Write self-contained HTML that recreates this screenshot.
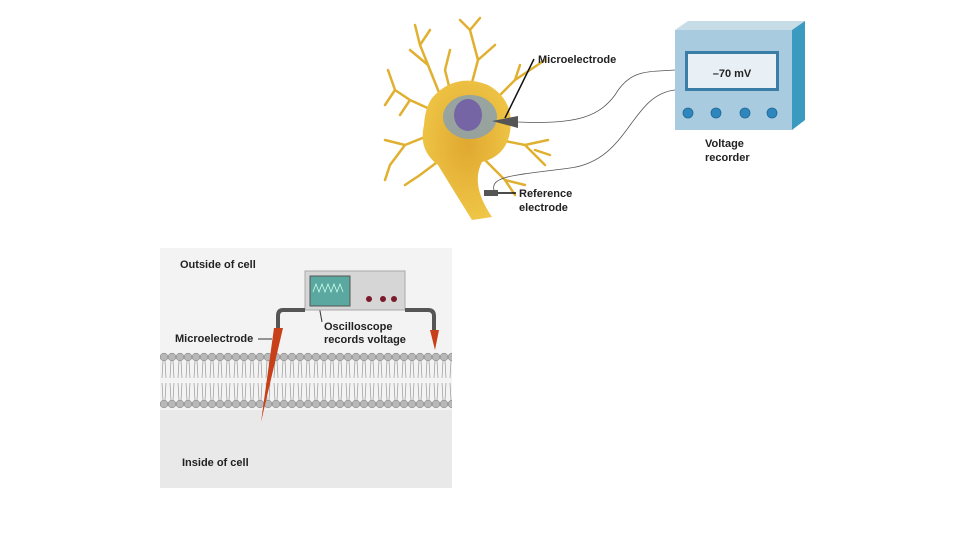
<!DOCTYPE html>
<html><head><style>
body{margin:0;background:#fff;}
svg{display:block;font-family:"Liberation Sans",Arial,sans-serif;font-weight:bold;}
</style></head><body>
<svg width="960" height="540" viewBox="0 0 960 540">
<defs>
<pattern id="heads" x="160" y="0" width="8" height="540" patternUnits="userSpaceOnUse">
<circle cx="4" cy="357" r="3.8" fill="#b8b8b8" stroke="#888" stroke-width="0.6"/>
<circle cx="4" cy="404" r="3.8" fill="#b8b8b8" stroke="#888" stroke-width="0.6"/>
<path d="M3 361 L2 378 M5 361 L6 378 M3 400 L2 383 M5 400 L6 383" stroke="#999" stroke-width="0.7" fill="none"/>
</pattern>
<radialGradient id="cell" cx="0.5" cy="0.45" r="0.6"><stop offset="0" stop-color="#e0a830"/><stop offset="1" stop-color="#f0c848"/></radialGradient>
</defs>
<rect x="160" y="248" width="292" height="240" fill="#f3f3f3"/>
<rect x="160" y="410" width="292" height="78" fill="#e9e9e9"/>
<rect x="160" y="350" width="292" height="62" fill="url(#heads)"/>
<text x="180" y="268" font-size="11" fill="#222">Outside of cell</text>
<text x="182" y="466" font-size="11" fill="#222">Inside of cell</text>
<text x="175" y="342" font-size="11" fill="#222">Microelectrode</text>
<line x1="258" y1="339" x2="272" y2="339" stroke="#333"/>
<text x="324" y="330" font-size="11" fill="#222">Oscilloscope</text>
<text x="324" y="343" font-size="11" fill="#222">records voltage</text>
<line x1="318" y1="300" x2="322" y2="322" stroke="#333"/>
<rect x="305" y="271" width="100" height="39" fill="#d6d6d6" stroke="#aaa"/>
<rect x="310" y="276" width="40" height="30" fill="#5aa8a0" stroke="#555"/>
<path d="M313 292 l3 -8 3 8 3 -8 3 8 3 -8 3 8 3 -8 3 8 3 -8 3 8" stroke="#cfe" fill="none" stroke-width="0.8"/>
<circle cx="369" cy="299" r="3" fill="#7a1a2a"/><circle cx="383" cy="299" r="3" fill="#7a1a2a"/><circle cx="394" cy="299" r="3" fill="#7a1a2a"/>
<path d="M305 310 H283 Q278 310 278 316 V328" stroke="#555" stroke-width="4" fill="none"/>
<path d="M405 310 H428 Q434 310 434 316 V330" stroke="#555" stroke-width="4" fill="none"/>
<polygon points="274,328 283,328 261,422" fill="#c8401a"/>
<polygon points="430,330 439,330 435,350" fill="#c8401a"/>
<!-- neuron -->
<g stroke="#e0b030" stroke-width="2.5" fill="none" stroke-linecap="round">
<path d="M440 95 L428 65 L420 45 L415 25 M428 65 L410 50 M420 45 L430 30"/>
<path d="M470 90 L478 60 L470 30 L460 20 M478 60 L495 45 M470 30 L480 18"/>
<path d="M495 100 L515 80 L530 70 L545 60 M515 80 L520 65"/>
<path d="M432 110 L410 100 L395 90 L388 70 M395 90 L385 105 M410 100 L400 115"/>
<path d="M430 135 L405 145 L390 165 L385 180 M405 145 L385 140"/>
<path d="M500 140 L525 145 L548 140 M525 145 L545 165 M535 150 L550 155"/>
<path d="M485 160 L505 180 L515 195 M505 180 L525 185"/>
<path d="M450 90 L445 70 L450 50"/>
<path d="M440 160 L420 175 L405 185"/>
</g>
<path d="M432 98 Q455 72 488 85 Q515 100 510 132 Q506 156 482 162 Q470 185 492 217 L472 220 Q452 188 438 165 Q418 150 424 125 Q425 108 432 98 Z" fill="url(#cell)"/>
<ellipse cx="470" cy="117" rx="27" ry="22" fill="#8aa0b0" opacity="0.85"/>
<ellipse cx="468" cy="115" rx="14" ry="16" fill="#7565a5"/>
<text x="538" y="63" font-size="11" fill="#222">Microelectrode</text>
<line x1="534" y1="59" x2="505" y2="118" stroke="#111" stroke-width="1.5"/>
<polygon points="492,121 518,116 518,128" fill="#555"/>
<path d="M518 122 C580 125 600 115 615 95 C630 70 645 72 675 70" stroke="#555" fill="none" stroke-width="0.8"/>
<path d="M494 190 C490 175 520 175 570 168 C630 160 630 95 675 90" stroke="#555" fill="none" stroke-width="0.8"/>
<rect x="484" y="190" width="14" height="6" fill="#555"/>
<line x1="498" y1="193" x2="516" y2="193" stroke="#111" stroke-width="1.5"/>
<text x="519" y="197" font-size="11" fill="#222">Reference</text>
<text x="519" y="211" font-size="11" fill="#222">electrode</text>
<polygon points="675,30 688,21 805,21 792,30" fill="#c6dce6"/>
<polygon points="792,30 805,21 805,120 792,130" fill="#3a9ac0"/>
<rect x="675" y="30" width="117" height="100" fill="#a9cbe0"/>
<rect x="685" y="51" width="94" height="40" fill="#3a7ea8"/>
<rect x="688" y="54" width="88" height="34" fill="#e8f0f6"/>
<text x="732" y="77" font-size="11" text-anchor="middle" fill="#222">–70 mV</text>
<g fill="#2f86bc" stroke="#1f6a98" stroke-width="0.8"><circle cx="688" cy="113" r="5"/><circle cx="716" cy="113" r="5"/><circle cx="745" cy="113" r="5"/><circle cx="772" cy="113" r="5"/></g>
<text x="705" y="147" font-size="11" fill="#222">Voltage</text>
<text x="705" y="161" font-size="11" fill="#222">recorder</text>
</svg>
</body></html>
